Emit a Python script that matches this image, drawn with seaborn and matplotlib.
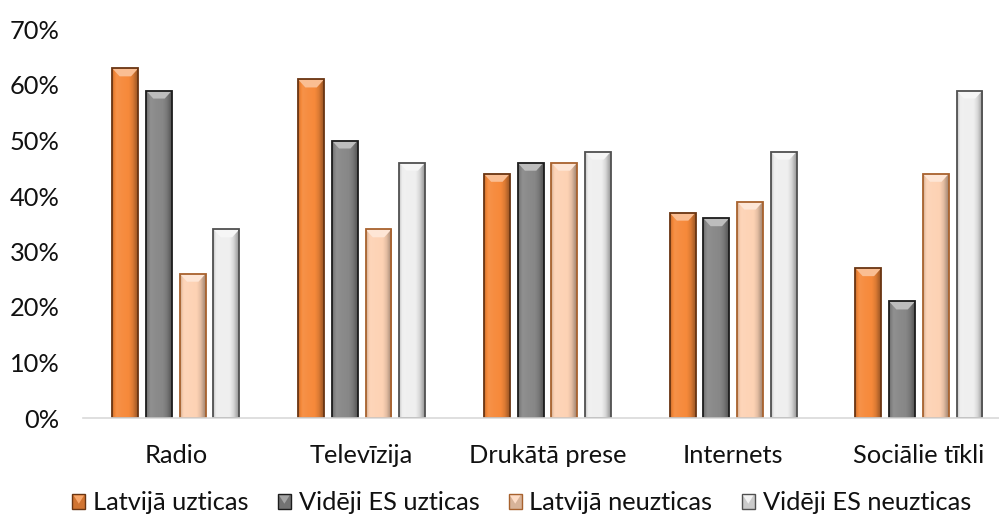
import numpy as np
import pandas as pd
import matplotlib
matplotlib.use("Agg")
import matplotlib.pyplot as plt
import seaborn as sns
from matplotlib.patches import Rectangle, Polygon
from matplotlib.legend_handler import HandlerPatch
from matplotlib.colors import to_rgb

# --- data -------------------------------------------------------------
categories = ["Radio", "Televīzija", "Drukātā prese", "Internets", "Sociālie tīkli"]
series_names = ["Latvijā uzticas", "Vidēji ES uzticas",
                "Latvijā neuzticas", "Vidēji ES neuzticas"]
latvija_uzticas = [63, 61, 44, 37, 27]
es_uzticas = [59, 50, 46, 36, 21]
latvija_neuzticas = [26, 34, 46, 39, 44]
es_neuzticas = [34, 46, 48, 48, 59]
y_ticks = [0, 10, 20, 30, 40, 50, 60, 70]

# --- style ------------------------------------------------------------
fills = ["#F6893A", "#878787", "#FDD2B4", "#EFEFEF"]
edges = ["#6A3512", "#1C1C1C", "#A8622E", "#505050"]
FONT = 18.3

df = pd.DataFrame({
    "Kategorija": categories * 4,
    "Sērija": np.repeat(series_names, len(categories)),
    "Vērtība": latvija_uzticas + es_uzticas + latvija_neuzticas + es_neuzticas,
})

sns.set_theme(style="white")
plt.rcParams["font.family"] = ["Lato", "DejaVu Sans"]

W, H = 999, 516
fig = plt.figure(figsize=(W / 100, H / 100), dpi=100)
ax_left, ax_bottom, ax_w, ax_h = 83, 98, 916, 388.5
ax = fig.add_axes([ax_left / W, ax_bottom / H, ax_w / W, ax_h / H])

sns.barplot(data=df, x="Kategorija", y="Vērtība", hue="Sērija",
            order=categories, hue_order=series_names, palette=fills,
            saturation=1, width=0.726, gap=0.23, legend=False, ax=ax)

XMIN, XMAX = -0.5, 4.431
YMAX = 70
px_x = ax_w / (XMAX - XMIN)
px_y = ax_h / YMAX


def shade(rgb, f):
    rgb = np.asarray(rgb)
    if f >= 1:
        return rgb + (1 - rgb) * min(f - 1, 1)
    return rgb * f


def profile(t):
    # horizontal light profile of a bevelled bar
    return np.interp(t, [0, 0.06, 0.18, 0.35, 0.65, 0.8, 0.93, 1.0],
                     [0.78, 0.92, 1.08, 1.04, 1.0, 0.9, 0.72, 0.62])


def series_index(face):
    face = np.asarray(face[:3])
    d = [np.sum((face - np.asarray(to_rgb(c))) ** 2) for c in fills]
    return int(np.argmin(d))


bars = [p for p in ax.patches if isinstance(p, Rectangle)]
for p in bars:
    i = series_index(p.get_facecolor())
    base = to_rgb(fills[i])
    x0, w = p.get_x(), p.get_width()
    y0, h = p.get_y(), p.get_height()
    p.set_edgecolor("none")
    p.set_linewidth(0)

    t = np.linspace(0, 1, 64)
    row = np.array([shade(base, profile(v)) for v in t])
    img = np.tile(row[None, :, :], (2, 1, 1))
    im = ax.imshow(img, extent=[x0, x0 + w, y0, y0 + h], aspect="auto",
                   interpolation="bilinear", zorder=2.1)
    im.set_clip_path(p)

    # lighter top facet of the bevel
    bev = 8 / px_y
    inset = 0.28 * w
    top = y0 + h
    ax.add_patch(Polygon([(x0, top), (x0 + w, top), (x0 + w - inset, top - bev),
                          (x0 + inset, top - bev)], closed=True,
                         facecolor=shade(base, 1.45), edgecolor="none", zorder=2.2))
    ax.add_patch(Rectangle((x0, y0), w, h, facecolor="none",
                           edgecolor=edges[i], linewidth=1.3, zorder=2.3))

ax.set_xlim(XMIN, XMAX)
ax.set_ylim(0, YMAX)
ax.set_yticks(y_ticks)
ax.set_yticklabels([f"{v}%" for v in y_ticks])
ax.set_xlabel("")
ax.set_ylabel("")
ax.tick_params(axis="both", length=0, labelsize=FONT, colors="#111111")
ax.tick_params(axis="y", pad=17)
ax.tick_params(axis="x", pad=19)
for s in ["top", "right", "left"]:
    ax.spines[s].set_visible(False)
ax.spines["bottom"].set_color("#D9D9D9")
ax.spines["bottom"].set_linewidth(1.2)
ax.grid(False)


class HandlerBevel(HandlerPatch):
    def create_artists(self, legend, orig_handle, xdescent, ydescent,
                       width, height, fontsize, trans):
        face = to_rgb(orig_handle.get_facecolor())
        edge = orig_handle.get_edgecolor()
        x, y = -xdescent, -ydescent
        sq = Rectangle((x, y), width, height, facecolor=shade(face, 0.85),
                       edgecolor=edge, linewidth=1.0, transform=trans)
        tri = Polygon([(x + 1, y + height - 1), (x + width - 1, y + height - 1),
                       (x + width / 2, y + height * 0.35)], closed=True,
                      facecolor=shade(face, 1.25), edgecolor="none", transform=trans)
        return [sq, tri]


handles = [Rectangle((0, 0), 1, 1, facecolor=f, edgecolor=e)
           for f, e in zip(fills, edges)]
fig.legend(handles, series_names, loc="center",
           bbox_to_anchor=(0.522, 1 - 503 / H), ncol=4, frameon=False,
           fontsize=FONT, handlelength=0.52, handleheight=0.52,
           handletextpad=0.3, columnspacing=1.15,
           handler_map={Rectangle: HandlerBevel()},
           labelcolor="#111111")

fig.savefig("out.png", dpi=100)
